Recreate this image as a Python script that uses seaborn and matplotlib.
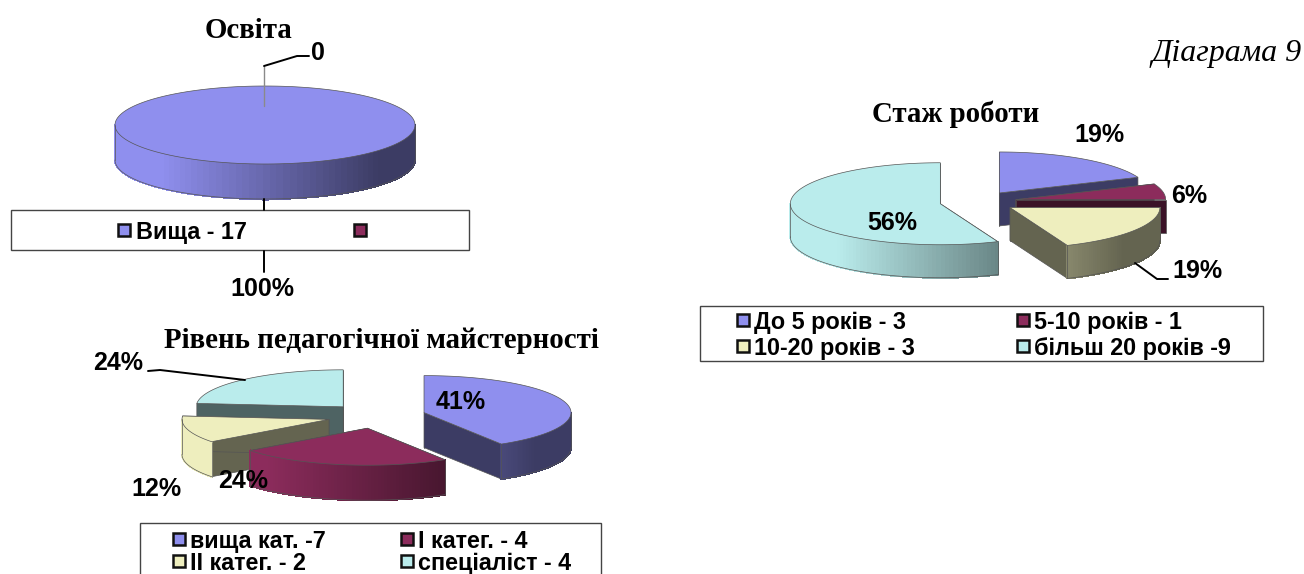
import numpy as np
import seaborn as sns
import matplotlib.pyplot as plt
from matplotlib.patches import Rectangle

# --- data ---
edu_labels = ["Вища - 17", ""]
edu_values = [17, 0]

skill_labels = ["вища кат. -7", "І катег. - 4", "ІІ катег. - 2", "спеціаліст - 4"]
skill_values = [7, 4, 2, 4]

work_labels = ["До 5 років - 3", "5-10 років - 1", "10-20 років - 3", "більш 20 років -9"]
work_values = [3, 1, 3, 9]

edu_title = "Освіта"
skill_title = "Рівень педагогічної майстерності"
work_title = "Стаж роботи"
caption = "Діаграма 9"

sns.set_theme(style="white")
palette = sns.color_palette(["#8F8FEE", "#8C2C5C", "#EEEEBE", "#BAECEC"])
SANS = "Liberation Sans"
SERIF = "Liberation Serif"
LEGEND_SIZE = 16.8
LABEL_SIZE = 18

fig = plt.figure(figsize=(13.04, 5.74), dpi=100)
ax = fig.add_axes([0, 0, 1, 1])
ax.set_xlim(0, 1304)
ax.set_ylim(574, 0)
ax.axis("off")


def shade(color, k):
    return tuple(c * k for c in color)


def wall_level(theta):
    # side walls go from full colour on the left to dark on the right
    return float(np.clip(0.72 - 0.4 * np.sin(theta), 0.42, 1.0))


def draw_slice(apex_x, apex_y, rx, ry, depth, a, b, color, full):
    def rim(t):
        return apex_x + rx * np.sin(t), apex_y - ry * np.cos(t)

    edge = dict(edgecolor="#555555", linewidth=0.5)
    if not full:
        for t in (a, b):
            x, y = rim(t)
            ax.fill([apex_x, x, x, apex_x],
                    [apex_y, y, y + depth, apex_y + depth],
                    facecolor=shade(color, 0.42), **edge)

    lo, hi = max(a, np.pi / 2), min(b, 3 * np.pi / 2)
    if hi > lo:
        steps = np.linspace(lo, hi, 70)
        for t0, t1 in zip(steps[:-1], steps[1:]):
            x0, y0 = rim(t0)
            x1, y1 = rim(t1)
            c = shade(color, wall_level((t0 + t1) / 2))
            ax.fill([x0, x1, x1, x0], [y0, y1, y1 + depth, y0 + depth],
                    facecolor=c, edgecolor=c, linewidth=0.8, antialiased=False)
        xs, ys = rim(steps)
        ax.plot(xs, ys + depth, color="#555555", lw=0.5)
        ax.plot([xs[0], xs[0]], [ys[0], ys[0] + depth], color="#555555", lw=0.5)
        ax.plot([xs[-1], xs[-1]], [ys[-1], ys[-1] + depth], color="#555555", lw=0.5)

    t = np.linspace(a, b, 160)
    xs, ys = rim(t)
    if not full:
        xs = np.r_[apex_x, xs]
        ys = np.r_[apex_y, ys]
    ax.fill(xs, ys, facecolor=color, zorder=1, **edge)


def draw_pie(values, cx, cy, rx, ry, depth, explode):
    total = sum(values)
    edges = 2 * np.pi * np.cumsum([0] + list(values)) / total
    slices = []
    for i, v in enumerate(values):
        if v == 0:
            continue
        mid = (edges[i] + edges[i + 1]) / 2
        slices.append((cy - explode * ry * np.cos(mid),
                       cx + explode * rx * np.sin(mid), i))
    # back to front
    for apex_y, apex_x, i in sorted(slices):
        draw_slice(apex_x, apex_y, rx, ry, depth, edges[i], edges[i + 1],
                   palette[i], values[i] == total)


def draw_legend(x0, y0, x1, y1, labels, xs, ys, text_dx):
    ax.add_patch(Rectangle((x0, y0), x1 - x0, y1 - y0, facecolor="white",
                           edgecolor="#444444", linewidth=1.0))
    for i, label in enumerate(labels):
        x, y = xs[i], ys[i]
        ax.add_patch(Rectangle((x - 6, y - 6), 12, 12, facecolor=palette[i],
                               edgecolor="#111111", linewidth=1.8))
        ax.text(x + text_dx, y, label, family=SANS, weight="bold",
                fontsize=LEGEND_SIZE, va="center_baseline", ha="left", color="black")


def pct(values, i):
    return f"{round(100 * values[i] / sum(values))}%"


def label(x, y, s):
    ax.text(x, y + 2, s, family=SANS, weight="bold", fontsize=LABEL_SIZE,
            ha="center", va="center", color="black", zorder=5)


def title(x, y, s):
    ax.text(x, y + 2, s, family=SERIF, weight="bold", fontsize=20.8,
            ha="center", va="center", color="black", zorder=5)


# --- Освіта ---
draw_pie(edu_values, 265, 125, 150, 39, 35, 0)
ax.plot([264, 264], [106, 66], color="#8a8a8a", lw=1.0)
ax.plot([264, 297, 309], [66, 56, 56], color="black", lw=1.4)
ax.plot([264, 264], [199, 210], color="black", lw=1.4)
ax.plot([264, 264], [251, 272], color="black", lw=1.4)
draw_legend(11, 210, 469, 250, edu_labels, [124, 360], [230, 230], 12)
title(249, 29, edu_title)
label(318, 51, str(edu_values[1]))
label(262, 287, pct(edu_values, 0))

# --- Рівень педагогічної майстерності ---
draw_pie(skill_values, 376.5, 416, 147, 37, 35, 0.336)
ax.plot([148, 160, 245], [371, 370, 380], color="black", lw=1.4)
draw_legend(140, 523, 601, 600, skill_labels, [179, 407, 179, 407], [539, 539, 561, 561], 11)
title(381, 339, skill_title)
label(461, 400, pct(skill_values, 0))
label(243, 479, pct(skill_values, 1))
label(156, 487, pct(skill_values, 2))
label(118, 361, pct(skill_values, 3))

# --- Стаж роботи ---
draw_pie(work_values, 978, 201.7, 150, 41, 33, 0.256)
ax.plot([1135, 1157, 1168], [263, 279, 279], color="black", lw=1.4)
draw_legend(700, 306, 1263, 361, work_labels, [743, 1023, 743, 1023], [320, 320, 346, 346], 11)
title(956, 112, work_title)
label(1099, 133, pct(work_values, 0))
label(1189, 194, pct(work_values, 1))
label(1197, 269, pct(work_values, 2))
label(892, 221, pct(work_values, 3))

ax.text(1302, 53, caption, family=SERIF, style="italic", fontsize=23,
        ha="right", va="center", color="black")

fig.savefig("out.png", dpi=100)
